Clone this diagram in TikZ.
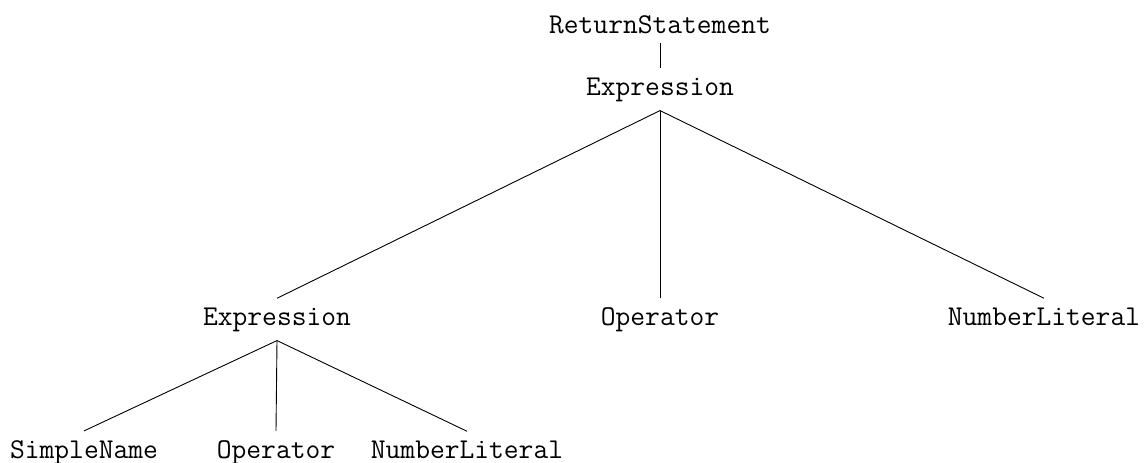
\documentclass[tikz,border=0pt]{standalone}
\begin{document}
\begin{tikzpicture}[x=1pt,y=-1pt,
  tn/.style={anchor=base,inner sep=9pt,font=\fontsize{28.7}{34}\selectfont\ttfamily},
  edge/.style={draw=black,line width=0.9pt}]
\useasboundingbox (0,0) rectangle (1146,463);
% root and its single child
\node[tn] (ret)  at (660,33) {ReturnStatement};
\node[tn] (expA) at (660,95) {Expression};
% second level
\node[tn] (expB) at (277,325) {Expression};
\node[tn] (opA)  at (660,325) {Operator};
\node[tn] (numA) at (1044,325) {NumberLiteral};
% third level
\node[tn] (sn)   at (84,458) {SimpleName};
\node[tn] (opB)  at (276,458) {Operator};
\node[tn] (numB) at (467,458) {NumberLiteral};
% connectors
\draw[edge] (ret.south) -- (expA.north);
\draw[edge] (expA.south) -- (expB.north);
\draw[edge] (expA.south) -- (opA.north);
\draw[edge] (expA.south) -- (numA.north);
\draw[edge] (expB.south) -- (sn.north);
\draw[edge] (expB.south) -- (opB.north);
\draw[edge] (expB.south) -- (numB.north);
\end{tikzpicture}
\end{document}
